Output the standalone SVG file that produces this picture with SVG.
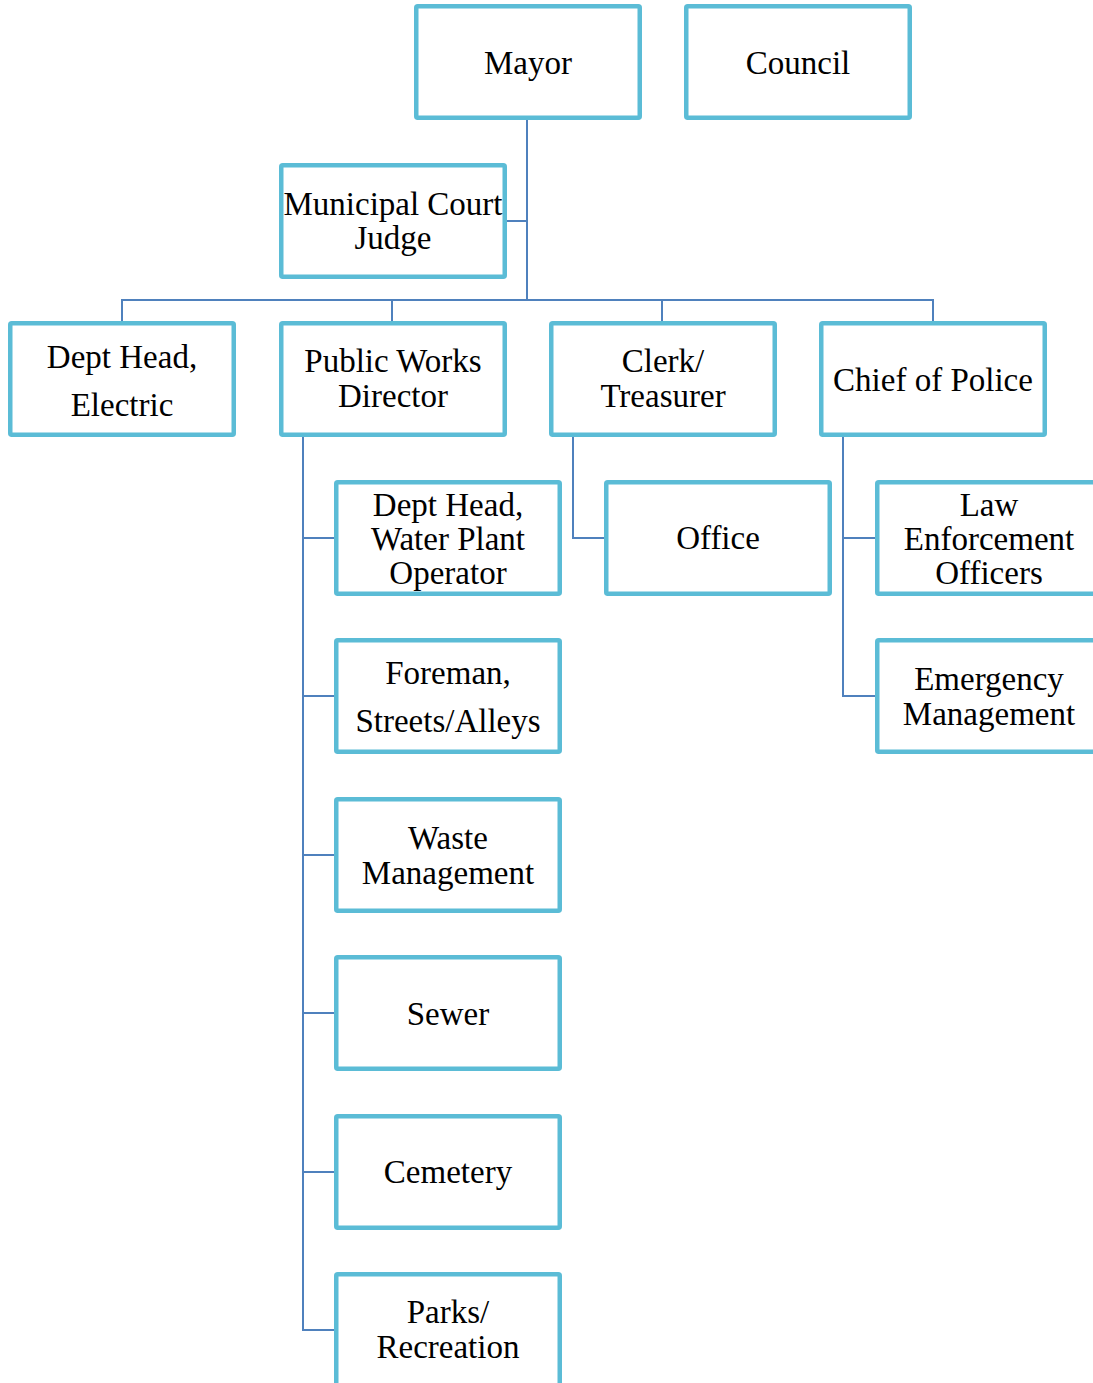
<svg xmlns="http://www.w3.org/2000/svg" width="1093" height="1383" viewBox="0 0 1093 1383">
  <style>
    .box { fill: #ffffff; stroke: #5BBCD6; stroke-width: 4.5; }
    .lbl { font-family: "Liberation Serif", "Times New Roman", serif; font-size: 33px; fill: #000000; text-anchor: middle; }
    .wire { fill: none; stroke: #4F81BD; stroke-width: 2; }
  </style>
  <rect width="1093" height="1383" fill="#ffffff"/>

  <!-- reporting lines -->
  <g id="connectors">
    <path class="wire" d="M527,120 V300 M506,221 H527"/>
    <path class="wire" d="M122,321 V300 H933 V321 M392,300 V321 M662,300 V321"/>
    <path class="wire" d="M303,437 V1330 H336 M303,538 H336 M303,696 H336 M303,855 H336 M303,1013 H336 M303,1172 H336"/>
    <path class="wire" d="M573,437 V538 H606"/>
    <path class="wire" d="M843,437 V696 H877 M843,538 H877"/>
  </g>

  <g id="mayor">
    <rect class="box" x="416.25" y="6.25" width="223.5" height="111.5" rx="1.5"/>
    <text class="lbl" x="528" y="74">Mayor</text>
  </g>
  <g id="council">
    <rect class="box" x="686.25" y="6.25" width="223.5" height="111.5" rx="1.5"/>
    <text class="lbl" x="798" y="74">Council</text>
  </g>
  <g id="municipal-court-judge">
    <rect class="box" x="281.25" y="165.25" width="223.5" height="111.5" rx="1.5"/>
    <text class="lbl" x="393" y="215">Municipal Court</text>
    <text class="lbl" x="393" y="249">Judge</text>
  </g>

  <g id="dept-head-electric">
    <rect class="box" x="10.25" y="323.25" width="223.5" height="111.5" rx="1.5"/>
    <text class="lbl" x="122" y="368">Dept Head,</text>
    <text class="lbl" x="122" y="416">Electric</text>
  </g>
  <g id="public-works-director">
    <rect class="box" x="281.25" y="323.25" width="223.5" height="111.5" rx="1.5"/>
    <text class="lbl" x="393" y="372">Public Works</text>
    <text class="lbl" x="393" y="407">Director</text>
  </g>
  <g id="clerk-treasurer">
    <rect class="box" x="551.25" y="323.25" width="223.5" height="111.5" rx="1.5"/>
    <text class="lbl" x="663" y="372">Clerk/</text>
    <text class="lbl" x="663" y="407">Treasurer</text>
  </g>
  <g id="chief-of-police">
    <rect class="box" x="821.25" y="323.25" width="223.5" height="111.5" rx="1.5"/>
    <text class="lbl" x="933" y="391">Chief of Police</text>
  </g>

  <g id="water-plant-operator">
    <rect class="box" x="336.25" y="482.25" width="223.5" height="111.5" rx="1.5"/>
    <text class="lbl" x="448" y="516">Dept Head,</text>
    <text class="lbl" x="448" y="550">Water Plant</text>
    <text class="lbl" x="448" y="584">Operator</text>
  </g>
  <g id="foreman-streets-alleys">
    <rect class="box" x="336.25" y="640.25" width="223.5" height="111.5" rx="1.5"/>
    <text class="lbl" x="448" y="684">Foreman,</text>
    <text class="lbl" x="448" y="732">Streets/Alleys</text>
  </g>
  <g id="waste-management">
    <rect class="box" x="336.25" y="799.25" width="223.5" height="111.5" rx="1.5"/>
    <text class="lbl" x="448" y="849">Waste</text>
    <text class="lbl" x="448" y="884">Management</text>
  </g>
  <g id="sewer">
    <rect class="box" x="336.25" y="957.25" width="223.5" height="111.5" rx="1.5"/>
    <text class="lbl" x="448" y="1025">Sewer</text>
  </g>
  <g id="cemetery">
    <rect class="box" x="336.25" y="1116.25" width="223.5" height="111.5" rx="1.5"/>
    <text class="lbl" x="448" y="1183">Cemetery</text>
  </g>
  <g id="parks-recreation">
    <rect class="box" x="336.25" y="1274.25" width="223.5" height="111.5" rx="1.5"/>
    <text class="lbl" x="448" y="1323">Parks/</text>
    <text class="lbl" x="448" y="1358">Recreation</text>
  </g>

  <g id="office">
    <rect class="box" x="606.25" y="482.25" width="223.5" height="111.5" rx="1.5"/>
    <text class="lbl" x="718" y="549">Office</text>
  </g>

  <g id="law-enforcement-officers">
    <rect class="box" x="877.25" y="482.25" width="223.5" height="111.5" rx="1.5"/>
    <text class="lbl" x="989" y="516">Law</text>
    <text class="lbl" x="989" y="550">Enforcement</text>
    <text class="lbl" x="989" y="584">Officers</text>
  </g>
  <g id="emergency-management">
    <rect class="box" x="877.25" y="640.25" width="223.5" height="111.5" rx="1.5"/>
    <text class="lbl" x="989" y="690">Emergency</text>
    <text class="lbl" x="989" y="725">Management</text>
  </g>
</svg>
